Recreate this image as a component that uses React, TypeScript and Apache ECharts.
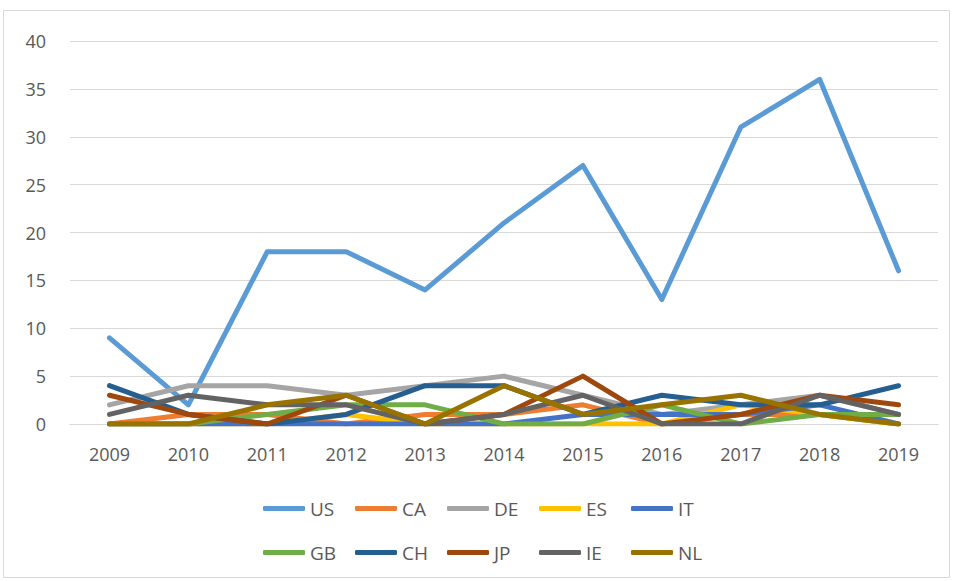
import React, { useEffect, useRef } from "react";
import * as echarts from "echarts";

const years = ["2009", "2010", "2011", "2012", "2013", "2014", "2015", "2016", "2017", "2018", "2019"];
const US = [9, 2, 18, 18, 14, 21, 27, 13, 31, 36, 16];
const CA = [0, 1, 1, 0, 1, 1, 2, 0, 1, 1, 0];
const DE = [2, 4, 4, 3, 4, 5, 3, 1, 2, 3, 1];
const ES = [0, 0, 0, 1, 0, 0, 0, 0, 2, 1, 0];
const IT = [0, 0, 0, 0, 0, 0, 1, 1, 1, 2, 0];
const GB = [0, 0, 1, 2, 2, 0, 0, 2, 0, 1, 1];
const CH = [4, 1, 0, 1, 4, 4, 1, 3, 2, 2, 4];
const JP = [3, 1, 0, 3, 0, 1, 5, 0, 1, 3, 2];
const IE = [1, 3, 2, 2, 0, 1, 3, 0, 0, 3, 1];
const NL = [0, 0, 2, 3, 0, 4, 1, 2, 3, 1, 0];

const seriesNames = ["US", "CA", "DE", "ES", "IT", "GB", "CH", "JP", "IE", "NL"];
const seriesData = [US, CA, DE, ES, IT, GB, CH, JP, IE, NL];
const colors = ["#5B9BD5", "#ED7D31", "#A5A5A5", "#FFC000", "#4472C4", "#70AD47", "#255E91", "#9E480E", "#636363", "#997300"];
const yTicks = [0, 5, 10, 15, 20, 25, 30, 35, 40];

export default function App() {
  const ref = useRef<HTMLDivElement>(null);
  useEffect(() => {
    if (!ref.current) return;
    const chart = echarts.init(ref.current, null, { renderer: "svg" });
    const font = "'Open Sans', 'Liberation Sans', sans-serif";
    const legendLefts = [263, 355, 447, 539, 631];
    const legends = seriesNames.map((n, i) => ({
      data: [n],
      left: legendLefts[i % 5],
      top: i < 5 ? 499 : 543,
      icon: "roundRect",
      itemWidth: 42,
      itemHeight: 5,
      padding: 0,
      selectedMode: false,
      textStyle: { fontSize: 19, color: "#595959", fontFamily: font, padding: [0, 0, 0, 0] },
    }));
    chart.setOption({
      animation: false,
      color: colors,
      graphic: [
        {
          type: "rect",
          shape: { x: 3.5, y: 10.5, width: 946, height: 567 },
          style: { fill: "none", stroke: "#d9d9d9", lineWidth: 1 },
          silent: true,
        },
      ],
      legend: legends,
      grid: { left: 70, right: 16, top: 41, bottom: 157 },
      xAxis: {
        type: "category",
        data: years,
        boundaryGap: true,
        axisLine: { lineStyle: { color: "#d9d9d9", width: 1 } },
        axisTick: { show: false },
        axisLabel: { fontSize: 18, color: "#595959", fontFamily: font, margin: 21 },
      },
      yAxis: {
        type: "value",
        min: yTicks[0],
        max: yTicks[yTicks.length - 1],
        interval: 5,
        axisLine: { show: false },
        axisTick: { show: false },
        splitLine: { lineStyle: { color: "#d9d9d9", width: 1 } },
        axisLabel: { fontSize: 18, color: "#595959", fontFamily: font, margin: 24 },
      },
      series: seriesNames.map((n, i) => ({
        name: n,
        type: "line",
        data: seriesData[i],
        symbol: "none",
        lineStyle: { width: 5, color: colors[i], cap: "round", join: "round" },
        itemStyle: { color: colors[i] },
      })),
    });
    return () => chart.dispose();
  }, []);
  return (
    <div
      ref={ref}
      style={{ position: "fixed", left: 0, top: 0, width: 954, height: 581, background: "#fff" }}
    />
  );
}
